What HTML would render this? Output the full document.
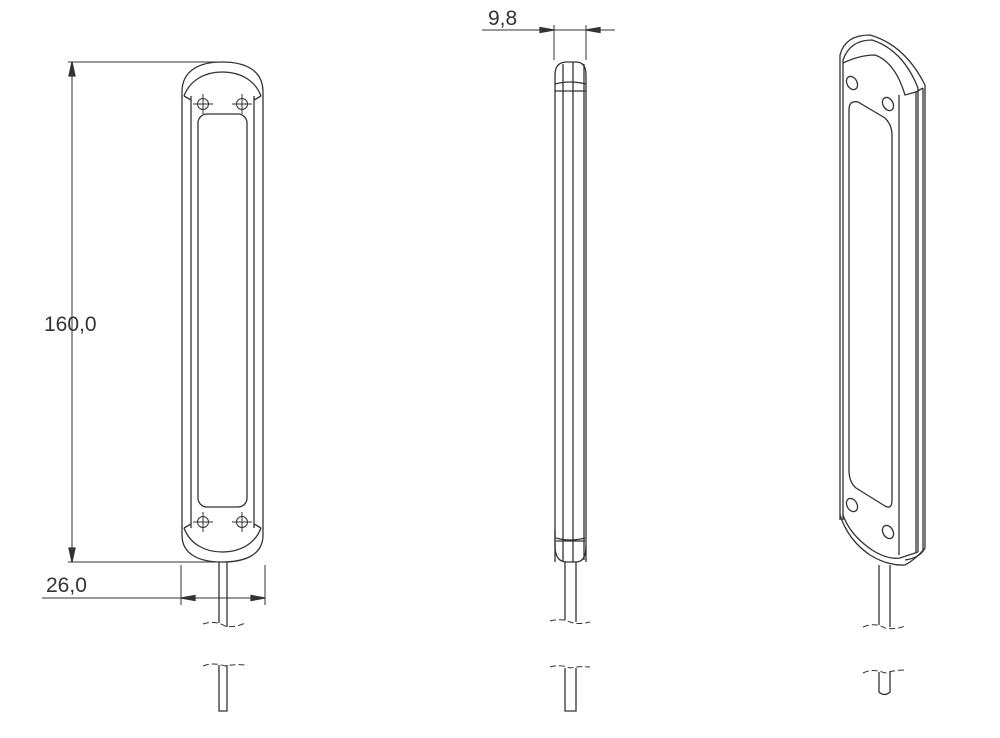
<!DOCTYPE html>
<html><head><style>body{margin:0;background:#fff}svg{display:block}</style></head><body>
<svg width="1000" height="738" viewBox="0 0 1000 738" xmlns="http://www.w3.org/2000/svg" fill="none" stroke="#333" stroke-width="1.3">
<!-- FRONT VIEW -->
<path d="M182,535 V92 C182,70 200,62 222,62 C245,62 263,70 263,92 V535 C263,555 245,562 222,562 C200,562 182,555 182,535 Z"/>
<line x1="191" y1="96" x2="191" y2="528"/><line x1="254" y1="96" x2="254" y2="528"/>
<path d="M184,96 C190,80 205,72 222,72 C240,72 255,80 261,96"/>
<path d="M184,96 L191,100 M261,96 L254,100"/>
<path d="M184,528 C190,544 205,552 222,552 C240,552 255,544 261,528"/>
<path d="M184,528 L191,524 M261,528 L254,524"/>
<rect x="198" y="114" width="49" height="393" rx="9"/>
<g stroke-width="1">
<circle cx="203" cy="104" r="5.5"/><circle cx="242" cy="104" r="5.5"/>
<circle cx="203" cy="522" r="5.5"/><circle cx="242" cy="522" r="5.5"/>
<path d="M193,104h20M203,94v20M232,104h20M242,94v20M193,522h20M203,512v20M232,522h20M242,512v20"/>
</g>
<path d="M219,562V623M227,562V627M219,665V711h8V665"/>
<path d="M203,624 Q215,620 225,626 Q235,628 245,623 M203,666 Q213,662 225,666 Q235,664 245,665" stroke-dasharray="6,3" stroke-width="1"/>
<!-- dims -->
<g stroke-width="1">
<path d="M68,62H225M68,562H225M72,62V562M42,598H265M181,565V605M265,565V605"/>
</g>
<path d="M72,62l-3,14h6z M72,562l-3,-14h6z M181,598l14,-2.5v5z M265,598l-14,-2.5v5z" fill="#333"/>
<text x="44" y="331" font-family="Liberation Sans, sans-serif" font-size="21" fill="#333" stroke="none">160,0</text>
<text x="46" y="592" font-family="Liberation Sans, sans-serif" font-size="21" fill="#333" stroke="none">26,0</text>
<!-- SIDE VIEW -->
<path d="M555,562V75 Q555,62 567,62 L576,62 Q586,62 586,75 V562"/>
<path d="M555,530V546 Q555,562 567,562 L576,562 Q586,562 586,546"/>
<line x1="563" y1="64" x2="563" y2="562"/><line x1="573" y1="62" x2="573" y2="562"/><line x1="584" y1="64" x2="584" y2="560"/>
<path d="M555,84 Q570,80 586,84 M555,91H586"/>
<path d="M556,538 Q570,542 585,538 M556,541H585"/>
<path d="M565,562V620M576,562V622M565,668V711h11V668"/>
<path d="M550,621 Q562,618 570,622 Q578,625 590,622 M550,667 Q560,664 570,668 Q578,666 590,667" stroke-dasharray="6,3" stroke-width="1"/>
<g stroke-width="1"><path d="M482,30H615M554,25V60M586,25V60"/></g>
<path d="M554,30l-14,-2.5v5z M586,30l14,-2.5v5z" fill="#333"/>
<text x="488" y="25" font-family="Liberation Sans, sans-serif" font-size="21" fill="#333" stroke="none">9,8</text>
<!-- ISO VIEW -->
<path d="M840,520V55 Q845,35 870,35 Q905,45 925,85 V548 Q920,558 905,560"/>
<path d="M843,520V60 Q850,40 872,40 Q903,50 918,88 V552"/>
<path d="M843,63 Q860,55 875,55 Q895,62 905,95 L916,92 L923,88"/>
<line x1="899" y1="95" x2="899" y2="555"/><line x1="916" y1="92" x2="916" y2="552"/><line x1="923" y1="88" x2="923" y2="550"/>
<path d="M840,515 Q848,540 870,555 Q888,566 905,565 Q915,560 925,548"/>
<path d="M843,515 Q850,535 872,550 Q888,560 900,558 L918,552"/>
<path d="M849,110 Q849,100 858,102 L885,118 Q892,125 892,135 V500 Q892,510 885,506 L856,488 Q849,482 849,470 Z"/>
<ellipse cx="852" cy="83" rx="5" ry="7" transform="rotate(-30 852 83)"/>
<ellipse cx="888" cy="104" rx="5" ry="7" transform="rotate(-30 888 104)"/>
<ellipse cx="852" cy="505" rx="5" ry="7" transform="rotate(-30 852 505)"/>
<ellipse cx="888" cy="532" rx="5" ry="7" transform="rotate(-30 888 532)"/>
<path d="M879,565V625M890,565V627M879,672V692 Q884,697 890,692V672"/>
<path d="M863,627 Q875,622 885,628 Q895,630 905,626 M863,673 Q873,668 885,673 Q895,670 905,670" stroke-dasharray="6,3" stroke-width="1"/>
</svg>
</body></html>
